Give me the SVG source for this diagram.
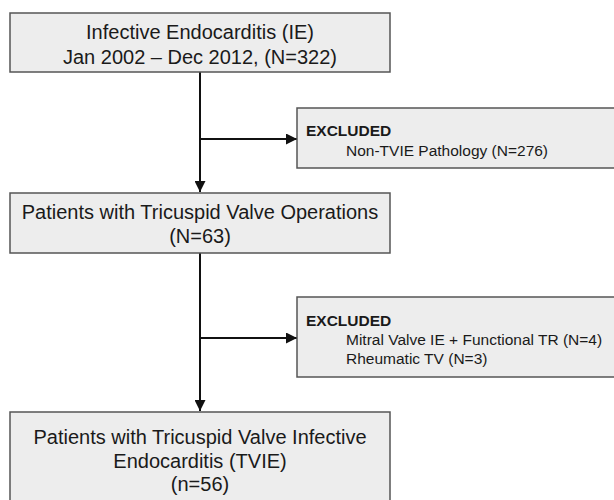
<svg xmlns="http://www.w3.org/2000/svg" width="614" height="500" viewBox="0 0 614 500">
<defs>
<style>
.box{fill:#ededed;stroke:#555;stroke-width:1.5}
.t{font-family:"Liberation Sans",Arial,sans-serif;font-size:20px;fill:#1a1a1a;text-anchor:middle}
.s{font-family:"Liberation Sans",Arial,sans-serif;font-size:15.5px;fill:#1a1a1a}
.b{font-weight:bold}
.ln{stroke:#111;stroke-width:2;fill:none}
</style>
<marker id="ah" viewBox="0 0 10 10" refX="10" refY="5" markerWidth="5.5" markerHeight="5.5" orient="auto" markerUnits="strokeWidth">
<path d="M0,0 L10,5 L0,10 z" fill="#111"/>
</marker>
</defs>
<rect width="614" height="500" fill="#fff"/>
<g id="connectors">
<line class="ln" x1="200" y1="72" x2="200" y2="192" marker-end="url(#ah)"/>
<line class="ln" x1="200" y1="139" x2="297" y2="139" marker-end="url(#ah)"/>
<line class="ln" x1="200" y1="253" x2="200" y2="411" marker-end="url(#ah)"/>
<line class="ln" x1="200" y1="338" x2="297" y2="338" marker-end="url(#ah)"/>
</g>
<g id="n1">
<rect class="box" x="10" y="13" width="380" height="59"/>
<text class="t" x="200" y="39">Infective Endocarditis (IE)</text>
<text class="t" x="200" y="64">Jan 2002 – Dec 2012, (N=322)</text>
</g>
<g id="ex1">
<rect class="box" x="297" y="108" width="330" height="60"/>
<text class="s b" x="306" y="136">EXCLUDED</text>
<text class="s" x="346" y="156">Non-TVIE Pathology (N=276)</text>
</g>
<g id="n2">
<rect class="box" x="10" y="193" width="380" height="60"/>
<text class="t" x="200" y="219">Patients with Tricuspid Valve Operations</text>
<text class="t" x="200" y="243">(N=63)</text>
</g>
<g id="ex2">
<rect class="box" x="297" y="297" width="330" height="80"/>
<text class="s b" x="306" y="326">EXCLUDED</text>
<text class="s" x="346" y="345">Mitral Valve IE + Functional TR (N=4)</text>
<text class="s" x="346" y="364">Rheumatic TV (N=3)</text>
</g>
<g id="n3">
<rect class="box" x="10" y="412" width="380" height="100"/>
<text class="t" x="200" y="444">Patients with Tricuspid Valve Infective</text>
<text class="t" x="200" y="468">Endocarditis (TVIE)</text>
<text class="t" x="200" y="491">(n=56)</text>
</g>
</svg>
